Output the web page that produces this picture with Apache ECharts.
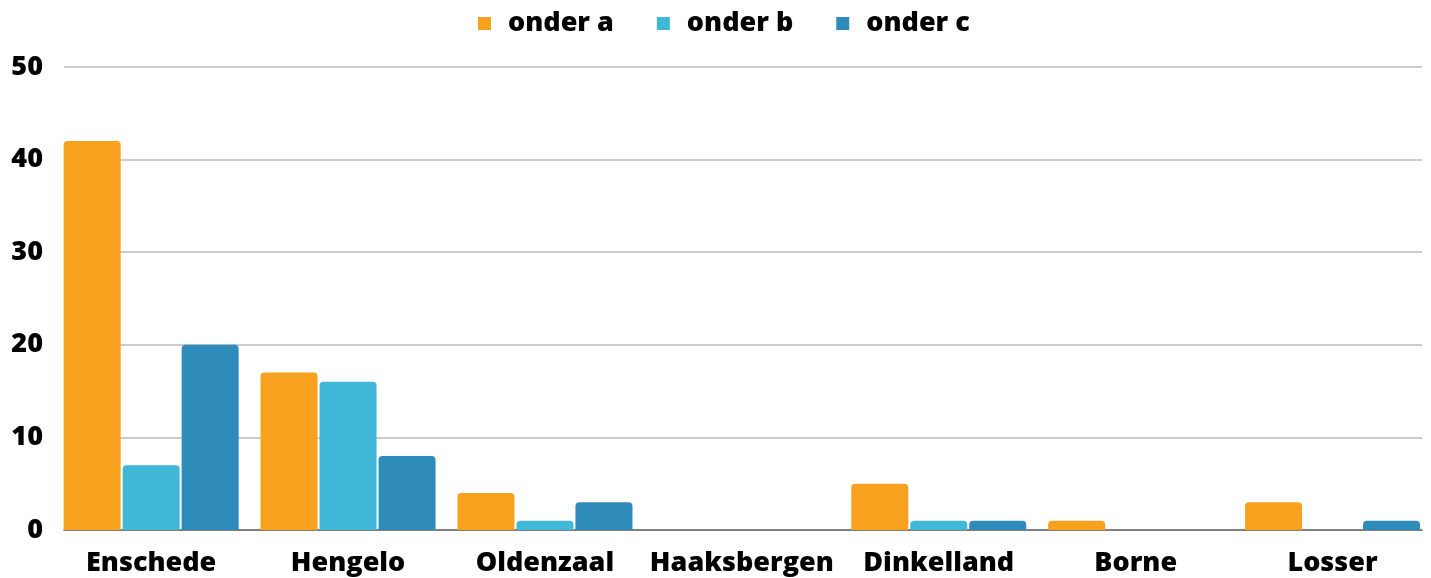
<!DOCTYPE html>
<html>
<head>
<meta charset="utf-8">
<script src="https://cdn.jsdelivr.net/npm/echarts@6/dist/echarts.min.js"></script>
<style>
  html, body { margin: 0; padding: 0; background: #fff; }
  #chart { width: 1431px; height: 578px; }
</style>
</head>
<body>
<div id="chart"></div>
<script>
  var categories = ['Enschede', 'Hengelo', 'Oldenzaal', 'Haaksbergen', 'Dinkelland', 'Borne', 'Losser'];
  var onderA = [42, 17, 4, 0, 5, 1, 3];
  var onderB = [7, 16, 1, 0, 1, 0, 0];
  var onderC = [20, 8, 3, 0, 1, 0, 1];
  var yTicks = [0, 10, 20, 30, 40, 50];

  var font = '"Open Sans", sans-serif';
  var chart = echarts.init(document.getElementById('chart'));

  function barSeries(name, data, color) {
    return {
      name: name,
      type: 'bar',
      xAxisIndex: 1,
      yAxisIndex: 1,
      data: data,
      barWidth: 57,
      barGap: '3.5%',
      itemStyle: { color: color, borderRadius: [4, 4, 0, 0] }
    };
  }

  chart.setOption({
    animation: false,
    textStyle: { fontFamily: font },
    legend: {
      top: 5,
      left: 473,
      itemWidth: 13,
      itemHeight: 13,
      itemGap: 43,
      icon: 'rect',
      textStyle: { fontFamily: font, fontSize: 27, fontWeight: 800, color: '#000', padding: [0, 0, 0, 12] },
      data: ['onder a', 'onder b', 'onder c']
    },
    grid: [
      // gridlines and value labels
      { left: 64, right: 9, top: 67, bottom: 48 },
      // bars: groups start at the left edge of the plot, so this grid is shifted
      // and a little wider than the chart
      { left: 52.7, width: 1382, top: 67, bottom: 48 }
    ],
    xAxis: [
      {
        gridIndex: 0,
        type: 'category',
        data: categories,
        axisLine: { show: true, lineStyle: { color: '#666', width: 1.5 } },
        axisTick: { show: false },
        axisLabel: { show: false }
      },
      {
        gridIndex: 1,
        type: 'category',
        data: categories,
        axisLine: { show: false },
        axisTick: { show: false },
        axisLabel: { interval: 0, fontFamily: font, fontSize: 27, fontWeight: 800, color: '#000', margin: 20 }
      }
    ],
    yAxis: [
      {
        gridIndex: 0,
        type: 'value',
        min: yTicks[0],
        max: yTicks[yTicks.length - 1],
        interval: 10,
        axisLine: { show: false },
        axisTick: { show: false },
        splitLine: { lineStyle: { color: '#bbb', width: 1.5 } },
        axisLabel: { fontFamily: font, fontSize: 27, fontWeight: 800, color: '#000', margin: 21 }
      },
      {
        gridIndex: 1,
        type: 'value',
        min: yTicks[0],
        max: yTicks[yTicks.length - 1],
        interval: 10,
        show: false
      }
    ],
    series: [
      barSeries('onder a', onderA, '#F7A11F'),
      barSeries('onder b', onderB, '#42B8D8'),
      barSeries('onder c', onderC, '#2E8BBA')
    ]
  });
</script>
</body>
</html>
